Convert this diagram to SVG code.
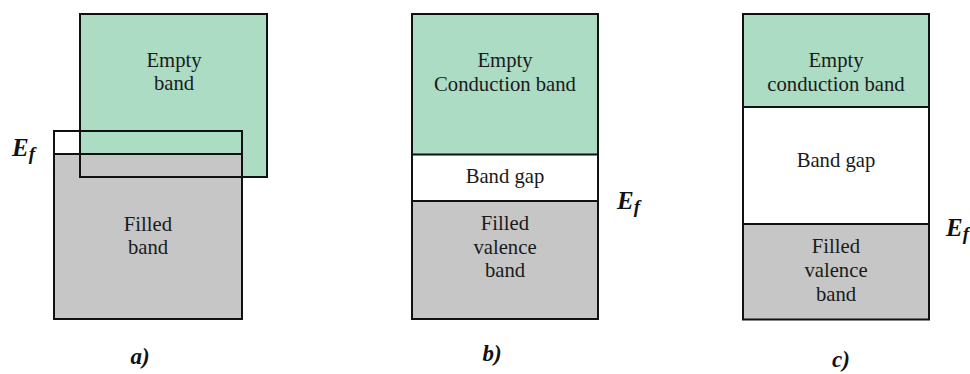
<svg xmlns="http://www.w3.org/2000/svg" width="970" height="374" viewBox="0 0 970 374">
<style>
.g{fill:#acdcc4}
.k{fill:#c6c6c6}
.o{fill:none;stroke:#111;stroke-width:2}
.b{stroke:#111;stroke-width:2}
.t{font-family:"Liberation Serif","Times New Roman",serif;font-size:20.7px;fill:#1a1a1a;text-anchor:middle}
.e{font-family:"Liberation Serif","Times New Roman",serif;font-size:25px;font-weight:bold;font-style:italic;fill:#111}
.s{font-size:19px}
.l{font-family:"Liberation Serif","Times New Roman",serif;font-size:23px;font-weight:bold;font-style:italic;fill:#111;text-anchor:middle}
</style>
<rect width="970" height="374" fill="#fff"/>
<g id="panel-a">
  <rect class="g" x="80" y="14" width="187" height="163"/>
  <rect class="k" x="54" y="154" width="188" height="165"/>
  <rect class="o" x="80" y="14" width="187" height="163"/>
  <rect class="o" x="54" y="131" width="188" height="23"/>
  <rect class="o" x="54" y="154" width="188" height="165"/>
  <text class="t" x="174" y="67">Empty</text>
  <text class="t" x="174" y="90">band</text>
  <text class="t" x="148" y="231">Filled</text>
  <text class="t" x="148" y="254">band</text>
  <text class="e" x="12" y="156">E<tspan class="s" dy="4">f</tspan></text>
  <text class="l" x="140" y="364">a)</text>
</g>
<g id="panel-b">
  <rect class="g" x="412" y="14" width="186" height="140.5"/>
  <rect fill="#fff" x="412" y="154.5" width="186" height="46.5"/>
  <rect class="k" x="412" y="201" width="186" height="118"/>
  <line class="b" x1="412" y1="154.5" x2="598" y2="154.5"/>
  <line class="b" x1="412" y1="201" x2="598" y2="201"/>
  <rect class="o" x="412" y="14" width="186" height="305"/>
  <text class="t" x="505" y="67">Empty</text>
  <text class="t" x="505" y="91">Conduction band</text>
  <text class="t" x="505" y="183">Band gap</text>
  <text class="t" x="505" y="230">Filled</text>
  <text class="t" x="505" y="254">valence</text>
  <text class="t" x="505" y="277">band</text>
  <text class="e" x="617" y="209">E<tspan class="s" dy="4">f</tspan></text>
  <text class="l" x="492" y="361">b)</text>
</g>
<g id="panel-c">
  <rect class="g" x="743" y="14" width="186" height="93"/>
  <rect fill="#fff" x="743" y="107" width="186" height="117"/>
  <rect class="k" x="743" y="224" width="186" height="95.5"/>
  <line class="b" x1="743" y1="107" x2="929" y2="107"/>
  <line class="b" x1="743" y1="224" x2="929" y2="224"/>
  <rect class="o" x="743" y="14" width="186" height="305.5"/>
  <text class="t" x="836" y="67">Empty</text>
  <text class="t" x="836" y="91">conduction band</text>
  <text class="t" x="836" y="167">Band gap</text>
  <text class="t" x="836" y="253">Filled</text>
  <text class="t" x="836" y="277">valence</text>
  <text class="t" x="836" y="301">band</text>
  <text class="e" x="946" y="236">E<tspan class="s" dy="4">f</tspan></text>
  <text class="l" x="841" y="367">c)</text>
</g>
</svg>
